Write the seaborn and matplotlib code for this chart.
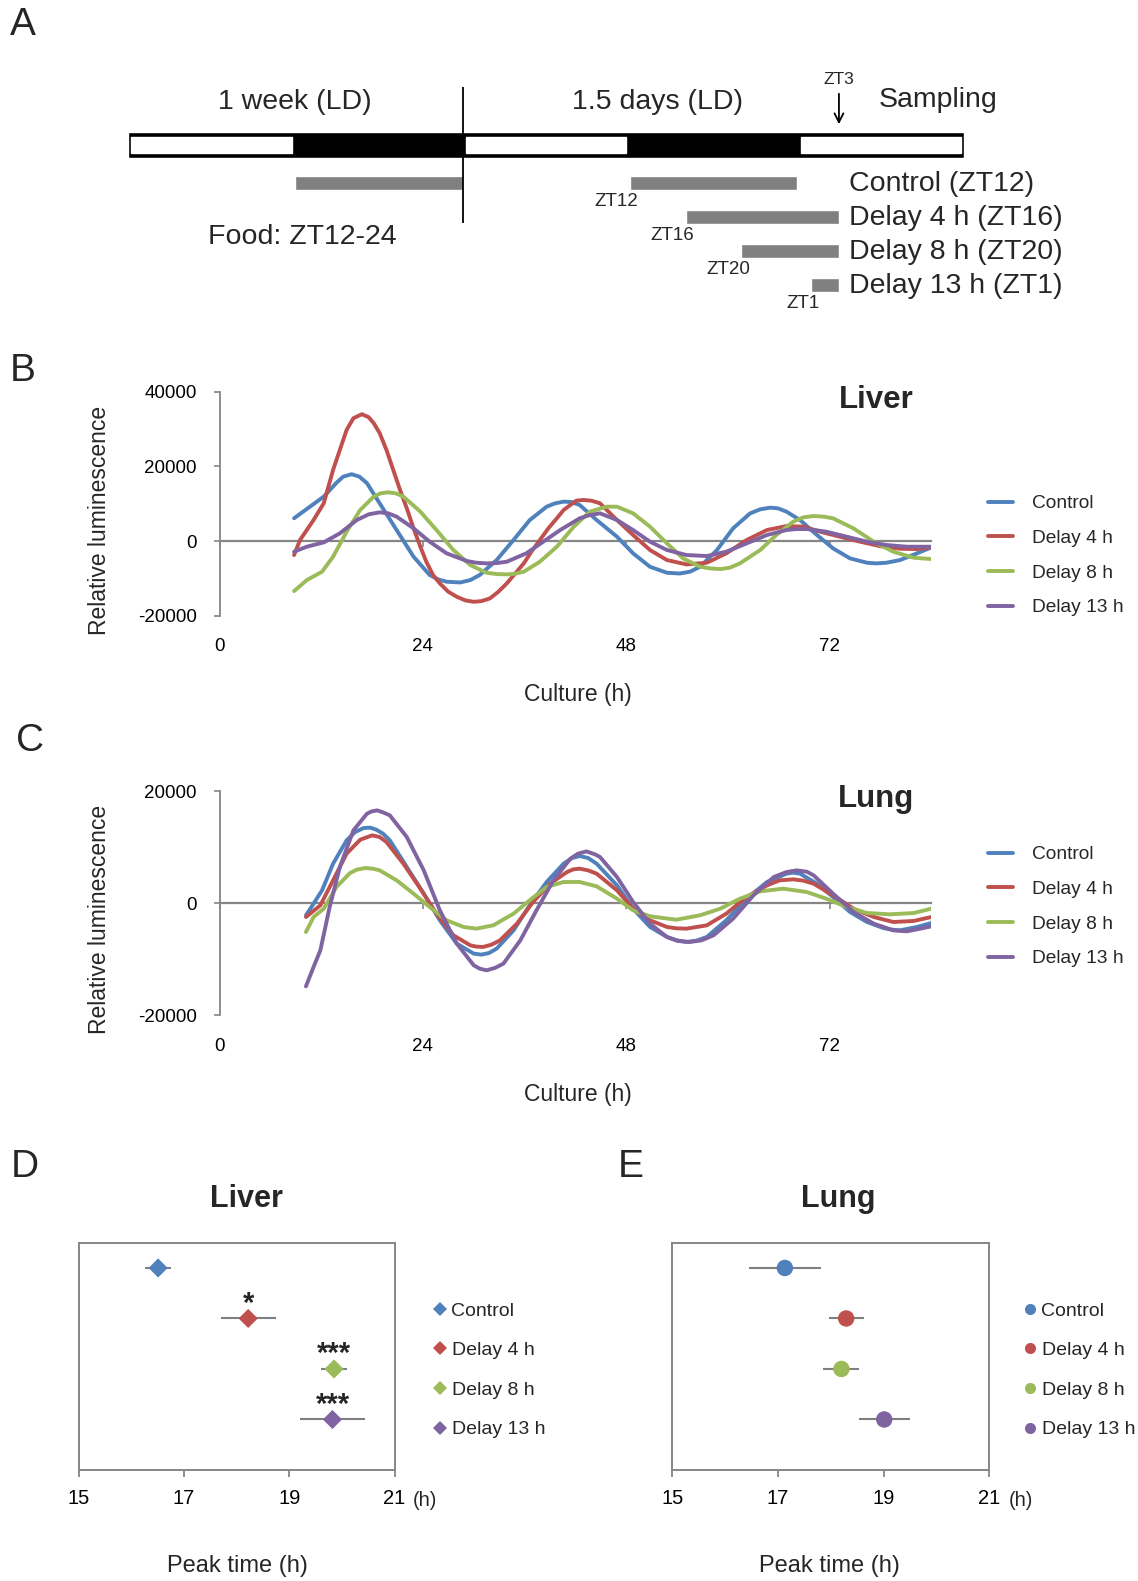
import matplotlib
matplotlib.use("Agg")
import matplotlib.pyplot as plt
import numpy as np
import pandas as pd
import seaborn as sns

# ================= DATA =================
GROUPS = ["Control", "Delay 4 h", "Delay 8 h", "Delay 13 h"]
COLORS = ["#4F81BD", "#C0504D", "#9BBB59", "#8064A2"]

# ---- Panel A (schedule, hours from start of drawn bar) ----
LD_PHASES = ["L", "D", "L", "D", "L"]
PHASE_HOURS = 12
WEEK_FOOD = (12, 24)
FOOD_LABELS = ["Control (ZT12)", "Delay 4 h (ZT16)", "Delay 8 h (ZT20)", "Delay 13 h (ZT1)"]
FOOD_START_ZT = ["ZT12", "ZT16", "ZT20", "ZT1"]
FOOD_START = [36, 40, 44, 49]
FOOD_END = [48, 51, 51, 51]
SAMPLING_T = 51

# ---- Panel B (Liver) ----
liver_ctrl_t = [8.8, 12.3, 13.8, 14.6, 15.6, 16.5, 17.4, 18.9, 20.9, 22.9, 24.8, 25.8, 26.8, 28.4, 29.6, 30.7, 32.7, 34.7, 36.6, 38.6, 39.6, 40.6, 41.5, 42.5, 44.5, 46.9, 48.8, 50.8, 52.8, 54.3, 55.5, 56.7, 58.7, 60.6, 62.6, 63.8, 65.0, 65.9, 66.9, 68.5, 70.5, 72.4, 74.4, 76.4, 77.5, 78.7, 80.3, 82.3, 84.0]
liver_ctrl_v = [6100, 11900, 15600, 17250, 17900, 17250, 15500, 10100, 2950, -4200, -9100, -10280, -10900, -11100, -10460, -9100, -5100, 300, 5600, 9200, 10100, 10550, 10460, 9650, 5630, 1160, -3300, -6900, -8500, -8700, -8220, -6900, -2400, 3400, 7400, 8490, 8940, 8760, 7870, 5630, 1610, -1970, -4650, -5810, -5990, -5810, -5100, -3300, -1700]
liver_d4_t = [8.8, 9.5, 11.1, 12.3, 13.4, 15.0, 15.8, 16.8, 17.6, 18.2, 18.9, 19.7, 20.5, 21.3, 22.1, 22.9, 23.7, 24.4, 25.2, 26.0, 27.0, 28.0, 29.0, 30.0, 30.9, 31.9, 32.9, 33.9, 34.9, 35.9, 36.8, 37.8, 38.8, 39.8, 40.6, 41.4, 42.1, 42.9, 43.9, 44.9, 46.9, 48.8, 50.8, 52.8, 55.1, 57.5, 59.8, 62.2, 64.6, 66.9, 68.9, 70.9, 73.2, 75.6, 77.9, 80.3, 82.3, 84.0]
liver_d4_v = [-3750, 270, 5630, 10100, 19040, 29770, 32900, 33970, 33170, 31560, 28900, 24400, 19040, 13680, 8760, 3400, -1520, -5540, -9120, -11350, -13590, -14930, -15900, -16270, -16100, -15380, -13590, -11350, -8670, -5990, -2860, 270, 3400, 6080, 8310, 9650, 10820, 11000, 10800, 10100, 5630, 1610, -2410, -5100, -6260, -5810, -3300, 270, 2950, 4020, 3840, 2500, 1160, -180, -1340, -2060, -2150, -1700]
liver_d8_t = [8.8, 10.3, 12.1, 13.4, 15.0, 16.6, 18.2, 19.0, 19.9, 20.8, 21.7, 23.7, 25.6, 27.6, 29.6, 31.5, 32.7, 33.9, 34.9, 35.9, 37.8, 39.8, 41.8, 43.7, 45.7, 46.9, 48.8, 50.8, 52.8, 54.7, 56.7, 57.9, 59.1, 60.2, 61.4, 63.8, 65.7, 67.7, 68.9, 70.1, 71.3, 72.4, 74.8, 77.2, 79.5, 81.9, 84.0]
liver_d8_v = [-13410, -10460, -8220, -4200, 2500, 8310, 11890, 12780, 13050, 12780, 11890, 7870, 2950, -2410, -6440, -8490, -8850, -8940, -8760, -8220, -5540, -1520, 3840, 7870, 9200, 9200, 7420, 3840, -630, -4650, -6880, -7330, -7510, -7150, -5990, -2410, 1610, 5190, 6350, 6700, 6530, 6080, 3400, -180, -2860, -4470, -4830]
liver_d13_t = [8.8, 10.3, 12.3, 14.2, 16.2, 17.6, 18.9, 19.9, 20.9, 22.9, 24.8, 26.8, 29.2, 30.3, 31.5, 32.7, 33.9, 36.2, 38.2, 40.2, 42.5, 43.7, 44.9, 46.9, 48.8, 50.8, 52.8, 55.1, 57.5, 59.8, 62.2, 64.6, 66.9, 68.1, 69.3, 71.6, 74.0, 76.4, 78.7, 81.1, 84.0]
liver_d13_v = [-2860, -1520, -360, 2060, 5630, 7150, 7690, 7420, 6530, 3400, -180, -3300, -5360, -5810, -5990, -5900, -5540, -3300, -180, 2950, 6080, 6970, 7420, 5630, 2950, -180, -2410, -3750, -4020, -2860, -630, 1610, 2950, 3220, 3220, 2500, 1160, -180, -1070, -1520, -1520]

# ---- Panel C (Lung) ----
lung_ctrl_t = [10.2, 11.1, 12.1, 13.4, 15.0, 16.0, 17.0, 17.8, 18.5, 19.3, 20.1, 22.1, 24.1, 26.0, 28.0, 30.0, 30.9, 31.8, 32.7, 34.7, 36.6, 38.6, 40.6, 41.6, 42.5, 43.5, 44.5, 46.9, 48.8, 50.8, 52.8, 53.9, 55.1, 56.3, 57.5, 59.8, 62.2, 64.6, 66.9, 67.7, 68.5, 70.5, 72.4, 74.4, 76.4, 78.3, 79.3, 80.3, 82.3, 84.0]
lung_ctrl_v = [-2200, -120, 2260, 7020, 11190, 12670, 13390, 13450, 13090, 12380, 11190, 6430, 1670, -3090, -7260, -9040, -9220, -8930, -8150, -4880, -420, 3750, 7020, 8030, 8390, 8030, 7020, 3150, -1010, -4280, -6070, -6660, -6960, -6720, -6070, -3090, 770, 3750, 5240, 5420, 5240, 3450, 1070, -1610, -3390, -4460, -4760, -4880, -4280, -3570]
lung_d4_t = [10.2, 11.9, 13.4, 15.0, 16.6, 18.0, 18.9, 19.7, 21.7, 23.7, 25.6, 27.6, 29.6, 30.3, 31.1, 32.1, 33.1, 35.1, 37.0, 39.0, 41.0, 41.75, 42.5, 43.5, 44.5, 46.9, 48.8, 50.8, 52.8, 53.9, 55.1, 57.5, 59.8, 62.2, 64.6, 66.1, 67.7, 68.9, 70.1, 72.4, 74.8, 77.2, 79.5, 81.9, 84.0]
lung_d4_v = [-2500, -420, 4050, 8810, 11300, 12080, 11780, 10890, 7020, 2560, -1900, -5770, -7560, -7790, -7850, -7440, -6660, -3690, 180, 3450, 5530, 6010, 6130, 5830, 5240, 2260, -1010, -3090, -4280, -4520, -4580, -3990, -1900, 1070, 3150, 4050, 4220, 3990, 3450, 1370, -1010, -2500, -3390, -3210, -2500]
lung_d8_t = [10.2, 11.1, 12.3, 13.8, 15.4, 16.2, 17.2, 18.1, 18.9, 20.9, 22.9, 24.8, 26.8, 28.8, 30.3, 32.3, 34.7, 36.6, 38.6, 40.6, 42.5, 44.5, 46.9, 48.8, 50.8, 53.9, 56.7, 59.1, 61.4, 63.8, 66.5, 69.3, 71.6, 74.0, 76.4, 79.1, 81.9, 84.0]
lung_d8_v = [-5180, -2500, -1010, 2860, 5360, 5950, 6250, 6130, 5830, 4050, 1670, -710, -3090, -4280, -4580, -3990, -1900, 480, 2860, 3750, 3750, 2980, 770, -1310, -2380, -2980, -2200, -1010, 770, 2080, 2560, 1960, 770, -710, -1790, -2020, -1790, -1010]
lung_d13_t = [10.2, 11.1, 11.9, 13.0, 14.2, 15.8, 17.4, 17.95, 18.6, 19.3, 20.1, 22.1, 24.1, 26.0, 28.0, 30.0, 30.7, 31.5, 32.5, 33.5, 35.5, 37.4, 39.4, 41.4, 42.3, 43.3, 44.3, 44.9, 46.9, 48.8, 50.8, 52.8, 54.1, 55.5, 56.9, 58.3, 60.6, 63.0, 65.4, 66.9, 68.1, 69.3, 70.1, 72.4, 74.8, 77.2, 79.5, 81.1, 82.7, 84.0]
lung_d13_v = [-14880, -11420, -8450, -710, 6430, 12970, 15950, 16360, 16540, 16180, 15650, 11780, 5830, -1310, -7260, -11130, -11720, -12020, -11600, -10830, -6660, -1310, 4050, 7910, 8810, 9220, 8690, 8210, 4640, 180, -3690, -6070, -6780, -6960, -6660, -5770, -2800, 1370, 4640, 5530, 5830, 5590, 4940, 1670, -1610, -3690, -4880, -5060, -4580, -4160]

TS_XTICKS = [0, 24, 48, 72]
LIVER_YTICKS = [-20000, 0, 20000, 40000]
LUNG_YTICKS = [-20000, 0, 20000]

# ---- Panels D/E (peak time) ----
liver_peak = [16.51, 18.22, 19.85, 19.82]
liver_sem = [0.25, 0.52, 0.25, 0.62]
liver_stars = ["", "*", "***", "***"]
lung_peak = [17.13, 18.29, 18.20, 19.01]
lung_sem = [0.68, 0.33, 0.34, 0.48]
PEAK_XTICKS = [15, 17, 19, 21]

# ================= STYLE =================
sns.set_theme(style="white")
plt.rcParams["font.family"] = ["Liberation Sans", "DejaVu Sans"]
AXG = "#868686"

W, H = 1138, 1581
fig = plt.figure(figsize=(W / 100, H / 100), dpi=100)


def fx(x):
    return x / W


def fy(y):
    return 1 - y / H


def box(x0, y0, x1, y1):
    return [fx(x0), fy(y1), fx(x1) - fx(x0), fy(y0) - fy(y1)]


def ftext(x, y, s, **kw):
    fig.text(fx(x), fy(y), s, **kw)


# ================= PANEL A =================
PX0, PXH = 128.0, 13.94  # px of t=0, px per hour
axA = fig.add_axes([0, fy(330), 1, 330 / H])
axA.set_xlim(-PX0 / PXH, (W - PX0) / PXH)
axA.set_ylim(330, 0)
axA.axis("off")

n = len(LD_PHASES)
axA.barh(145, n * PHASE_HOURS, left=0, height=26, color="black", zorder=1)
for i, ph in enumerate(LD_PHASES):
    if ph == "L":
        axA.barh(145, PHASE_HOURS - 0.5, left=i * PHASE_HOURS + 0.25, height=16.5,
                 color="white", zorder=2)
axA.vlines(24, 87, 223, color="black", lw=1.3, zorder=3)
axA.barh(183, WEEK_FOOD[1] - WEEK_FOOD[0], left=WEEK_FOOD[0], height=14, color="#808080")
for i, (s, e, lab, zt) in enumerate(zip(FOOD_START, FOOD_END, FOOD_LABELS, FOOD_START_ZT)):
    yc = 183 + 34.1 * i
    axA.barh(yc, e - s, left=s, height=14, color="#808080")
    axA.text(s + 0.62, yc + 18.5, zt, ha="right", va="center", fontsize=13.5)
    axA.text(51.7, yc + 1, lab, ha="left", va="center", fontsize=20.5)
axA.annotate("", xy=(SAMPLING_T, 127), xytext=(SAMPLING_T, 91),
             arrowprops=dict(arrowstyle="->", lw=1.3, color="black",
                             mutation_scale=16))
axA.text(SAMPLING_T, 80, "ZT3", ha="center", va="center", fontsize=12.5)
axA.text(12, 102, "1 week (LD)", ha="center", va="center", fontsize=20.5)
axA.text(38, 102, "1.5 days (LD)", ha="center", va="center", fontsize=20.5)
axA.text(58.1, 100, "Sampling", ha="center", va="center", fontsize=20.5)
axA.text(12.5, 237, "Food: ZT12-24", ha="center", va="center", fontsize=20.5)


# ================= PANELS B / C =================
def ts_panel(rect, tlist, vlist, ylim, yticks, leg_top, xl_pad):
    ax = fig.add_axes(rect)
    frames = [pd.DataFrame({"t": t, "v": v, "group": g})
              for g, t, v in zip(GROUPS, tlist, vlist)]
    df = pd.concat(frames, ignore_index=True)
    sns.lineplot(data=df, x="t", y="v", hue="group", hue_order=GROUPS,
                 palette=COLORS, estimator=None, sort=False, linewidth=2.8,
                 solid_joinstyle="round", solid_capstyle="round", ax=ax, zorder=3)
    ax.set_xlim(0, 84)
    ax.set_ylim(*ylim)
    ax.set_yticks(yticks)
    ax.set_yticklabels([str(v) for v in yticks])
    ax.set_xticks(TS_XTICKS)
    ax.set_xlabel("")
    ax.set_ylabel("")
    for s in ["top", "right"]:
        ax.spines[s].set_visible(False)
    ax.spines["left"].set_color(AXG)
    ax.spines["left"].set_linewidth(1.3)
    ax.spines["bottom"].set_position(("data", 0))
    ax.spines["bottom"].set_color(AXG)
    ax.spines["bottom"].set_linewidth(1.6)
    ax.spines["bottom"].set_zorder(1)
    ax.tick_params(axis="y", direction="out", length=4, width=1.2, color=AXG,
                   pad=12.5, labelsize=13.5, labelcolor="black", left=True)
    ax.tick_params(axis="x", direction="out", length=4, width=1.2, color=AXG,
                   labelbottom=False, bottom=True)
    sec = ax.secondary_xaxis("bottom")
    sec.set_xticks(TS_XTICKS)
    sec.set_xticklabels([str(v) for v in TS_XTICKS])
    sec.tick_params(length=0, pad=xl_pad, labelsize=13.5, labelcolor="black")
    sec.spines["bottom"].set_visible(False)
    ax.grid(False)
    h, l = ax.get_legend_handles_labels()
    ax.legend(h, l, loc="upper left", bbox_to_anchor=(fx(988), fy(leg_top)),
              bbox_transform=fig.transFigure, frameon=False, fontsize=13.8,
              handlelength=1.3, handletextpad=1.0, labelspacing=0.9,
              borderpad=0, borderaxespad=0)
    return ax


axB = ts_panel(box(219.5, 391.7, 931.4, 615.7),
               [liver_ctrl_t, liver_d4_t, liver_d8_t, liver_d13_t],
               [liver_ctrl_v, liver_d4_v, liver_d8_v, liver_d13_v],
               (-20000, 40000), LIVER_YTICKS, 495, 16.3)
axC = ts_panel(box(219.5, 791, 931.4, 1015),
               [lung_ctrl_t, lung_d4_t, lung_d8_t, lung_d13_t],
               [lung_ctrl_v, lung_d4_v, lung_d8_v, lung_d13_v],
               (-20000, 20000), LUNG_YTICKS, 846, 16.7)

ftext(876, 408, "Liver", ha="center", va="baseline", fontsize=22.5, fontweight="bold")
ftext(876, 807, "Lung", ha="center", va="baseline", fontsize=22.5, fontweight="bold")
for yc in (520, 919):
    ftext(99.5, yc, "Relative luminescence", ha="center", va="center",
          rotation=90, fontsize=16.5)
ftext(578, 695, "Culture (h)", ha="center", va="center", fontsize=16.5)
ftext(578, 1094, "Culture (h)", ha="center", va="center", fontsize=16.5)


# ================= PANELS D / E =================
def peak_panel(rect, peaks, sems, marker, msize, stars, title, tx, hx, leg_x, legms):
    ax = fig.add_axes(rect)
    ypos = [len(GROUPS) - i for i in range(len(GROUPS))]
    ax.errorbar(peaks, ypos, xerr=sems, fmt="none", ecolor="#7F7F7F",
                elinewidth=1.5, capsize=0, zorder=2)
    sns.scatterplot(x=peaks, y=ypos, hue=GROUPS, hue_order=GROUPS, palette=COLORS,
                    marker=marker, s=msize, linewidth=0, ax=ax, zorder=3)
    if stars:
        for p, y, st in zip(peaks, ypos, stars):
            if st:
                ax.annotate(st, (p, y), xytext=(0, 5), textcoords="offset points",
                            ha="center", va="baseline", fontsize=21,
                            fontweight="bold")
    ax.set_xlim(15, 21)
    ax.set_ylim(0, 4.5)
    ax.set_xticks(PEAK_XTICKS)
    ax.set_xticklabels([str(v) for v in PEAK_XTICKS])
    ax.set_yticks([])
    for s in ax.spines.values():
        s.set_color(AXG)
        s.set_linewidth(1.4)
        s.set_visible(True)
    ax.tick_params(axis="x", direction="out", length=5, width=1.3, color=AXG,
                   pad=9, labelsize=14.5, labelcolor="black", bottom=True)
    ax.grid(False)
    h, l = ax.get_legend_handles_labels()
    for hh in h:
        hh.set_markersize(legms)
    ax.legend(h, l, loc="upper left", bbox_to_anchor=(fx(leg_x), fy(1302)),
              bbox_transform=fig.transFigure, frameon=False, fontsize=14,
              handlelength=0.6, handletextpad=0.3, labelspacing=1.13,
              borderpad=0, borderaxespad=0, markerscale=1.0)
    ftext(tx, 1207, title, ha="center", va="baseline", fontsize=22, fontweight="bold")
    ftext(hx, 1501, "(h)", ha="center", va="center", fontsize=14.5)
    ftext(tx - 9, 1566, "Peak time (h)", ha="center", va="center", fontsize=17)
    return ax


axD = peak_panel(box(78.6, 1242.7, 394.6, 1470), liver_peak, liver_sem, "D", 95,
                 liver_stars, "Liver", 246.7, 425, 434, 7)
axE = peak_panel(box(672.3, 1242.7, 989.4, 1470), lung_peak, lung_sem, "o", 140,
                 None, "Lung", 838.5, 1021, 1024, 8)

# panel letters
for lab, x, y in [("A", 23, 25), ("B", 23, 371), ("C", 30, 741),
                  ("D", 25, 1167), ("E", 631, 1167)]:
    ftext(x, y, lab, ha="center", va="center", fontsize=28)

fig.savefig("out.png", dpi=100)
